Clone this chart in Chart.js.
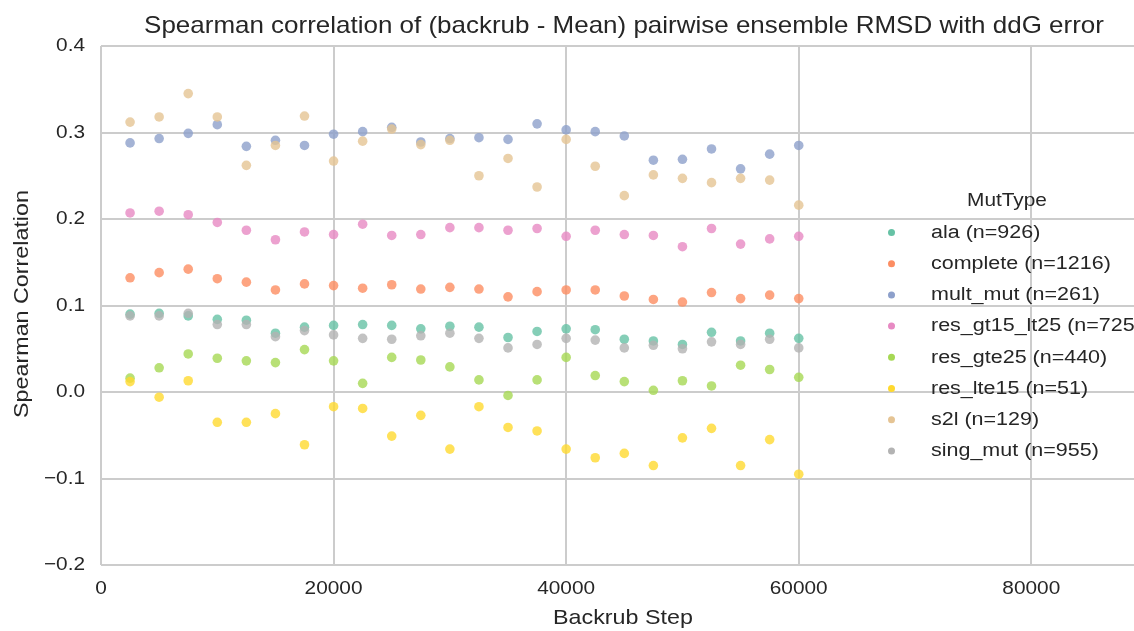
<!DOCTYPE html>
<html>
<head>
<meta charset="utf-8">
<script src="https://cdn.jsdelivr.net/npm/chart.js@4.4.1/dist/chart.umd.min.js"></script>
<style>
  html, body { margin: 0; padding: 0; background: #fff; overflow: hidden; }
  #wrap { width: 1134px; height: 631px; position: relative; }
</style>
</head>
<body>
<div id="wrap"><canvas id="chart"></canvas></div>
<script>
// data
const steps = [2500, 5000, 7500, 10000, 12500, 15000, 17500, 20000, 22500, 25000, 27500, 30000,
               32500, 35000, 37500, 40000, 42500, 45000, 47500, 50000, 52500, 55000, 57500, 60000];

const ala = [0.090, 0.091, 0.088, 0.084, 0.083, 0.068, 0.075, 0.077, 0.078, 0.077, 0.073, 0.076,
             0.075, 0.063, 0.070, 0.073, 0.072, 0.061, 0.059, 0.055, 0.069, 0.059, 0.068, 0.062];
const complete = [0.132, 0.138, 0.142, 0.131, 0.127, 0.118, 0.125, 0.123, 0.120, 0.124, 0.119, 0.121,
                  0.119, 0.110, 0.116, 0.118, 0.118, 0.111, 0.107, 0.104, 0.115, 0.108, 0.112, 0.108];
const multMut = [0.288, 0.293, 0.299, 0.309, 0.284, 0.291, 0.285, 0.298, 0.301, 0.306, 0.289, 0.293,
                 0.294, 0.292, 0.310, 0.303, 0.301, 0.296, 0.268, 0.269, 0.281, 0.258, 0.275, 0.285];
const resGt15Lt25 = [0.207, 0.209, 0.205, 0.196, 0.187, 0.176, 0.185, 0.182, 0.194, 0.181, 0.182, 0.190,
                     0.190, 0.187, 0.189, 0.180, 0.187, 0.182, 0.181, 0.168, 0.189, 0.171, 0.177, 0.180];
const resGte25 = [0.016, 0.028, 0.044, 0.039, 0.036, 0.034, 0.049, 0.036, 0.010, 0.040, 0.037, 0.029,
                  0.014, -0.004, 0.014, 0.040, 0.019, 0.012, 0.002, 0.013, 0.007, 0.031, 0.026, 0.017];
const resLte15 = [0.012, -0.006, 0.013, -0.035, -0.035, -0.025, -0.061, -0.017, -0.019, -0.051, -0.027, -0.066,
                  -0.017, -0.041, -0.045, -0.066, -0.076, -0.071, -0.085, -0.053, -0.042, -0.085, -0.055, -0.095];
const s2l = [0.312, 0.318, 0.345, 0.318, 0.262, 0.285, 0.319, 0.267, 0.290, 0.304, 0.286, 0.291,
             0.250, 0.270, 0.237, 0.292, 0.261, 0.227, 0.251, 0.247, 0.242, 0.247, 0.245, 0.216];
const singMut = [0.088, 0.088, 0.091, 0.078, 0.078, 0.064, 0.071, 0.066, 0.062, 0.061, 0.065, 0.068,
                 0.062, 0.051, 0.055, 0.062, 0.060, 0.051, 0.054, 0.050, 0.058, 0.055, 0.061, 0.051];

const seriesNames = ['ala (n=926)', 'complete (n=1216)', 'mult_mut (n=261)', 'res_gt15_lt25 (n=725)',
                     'res_gte25 (n=440)', 'res_lte15 (n=51)', 's2l (n=129)', 'sing_mut (n=955)'];
const seriesValues = [ala, complete, multMut, resGt15Lt25, resGte25, resLte15, s2l, singMut];
const colors = ['#66c2a5', '#fc8d62', '#8da0cb', '#e78ac3', '#a6d854', '#ffd92f', '#e5c494', '#b3b3b3'];

const xTicks = [0, 20000, 40000, 60000, 80000];
const yTicks = [-0.2, -0.1, 0.0, 0.1, 0.2, 0.3, 0.4];

const FONT = '"Liberation Sans", Arial, sans-serif';
const INK = '#262626';
const SX = 1.12; // the reference text is a little wider than Arial

function hexA(hex, a) {
  const n = parseInt(hex.slice(1), 16);
  return `rgba(${n >> 16}, ${(n >> 8) & 255}, ${n & 255}, ${a})`;
}

function putText(ctx, str, x, y, size, align, rot) {
  ctx.save();
  ctx.font = size + 'px ' + FONT;
  ctx.fillStyle = INK;
  ctx.textAlign = align;
  ctx.textBaseline = 'middle';
  ctx.translate(x, y);
  if (rot) ctx.rotate(rot);
  ctx.scale(SX, 1);
  ctx.fillText(str, 0, 0);
  ctx.restore();
}

function tickText(v) {
  const s = Math.abs(v).toFixed(1);
  return v < 0 ? '\u2212' + s : s;
}

const datasets = seriesValues.map((vals, i) => ({
  label: seriesNames[i],
  data: steps.map((s, j) => ({ x: s, y: vals[j] })),
  backgroundColor: hexA(colors[i], 0.8),
  borderWidth: 0,
  pointRadius: 4.8,
  pointBorderWidth: 0,
  order: seriesValues.length - i
}));

// title, axis titles, tick labels and legend
const textPlugin = {
  id: 'texts',
  afterDraw(chart) {
    const ctx = chart.ctx;
    const xs = chart.scales.x, ys = chart.scales.y;

    putText(ctx, 'Spearman correlation of (backrub - Mean) pairwise ensemble RMSD with ddG error', 624, 27, 23.2, 'center');

    yTicks.forEach(v => {
      putText(ctx, tickText(v), 85, ys.getPixelForValue(v), 18.6, 'right');
    });
    xTicks.forEach(v => {
      putText(ctx, String(v), xs.getPixelForValue(v), 589, 18.6, 'center');
    });

    putText(ctx, 'Backrub Step', 623, 618, 20.8, 'center');
    putText(ctx, 'Spearman Correlation', 22, 304, 20.8, 'center', -Math.PI / 2);

    // legend
    putText(ctx, 'MutType', 1007, 201, 18.6, 'center');
    seriesNames.forEach((name, i) => {
      const y = 232.5 + i * 31.2;
      ctx.beginPath();
      ctx.arc(891.5, y, 3.5, 0, Math.PI * 2);
      ctx.fillStyle = colors[i];
      ctx.fill();
      putText(ctx, name, 931, y, 19.2, 'left');
    });
  }
};

const gridOpts = { color: '#cccccc', lineWidth: 2, drawTicks: false };

new Chart(document.getElementById('chart'), {
  type: 'scatter',
  data: { datasets: datasets },
  options: {
    responsive: true,
    maintainAspectRatio: false,
    animation: false,
    layout: { autoPadding: false, padding: { top: 46, right: 0, bottom: 0, left: 0 } },
    plugins: {
      legend: { display: false },
      tooltip: { enabled: false },
      title: { display: false }
    },
    scales: {
      x: {
        type: 'linear',
        min: 0,
        max: 88830,
        grid: gridOpts,
        border: { display: false },
        ticks: { display: false },
        afterBuildTicks: s => { s.ticks = xTicks.map(v => ({ value: v })); },
        afterFit: s => { s.height = 66; }
      },
      y: {
        min: -0.2,
        max: 0.4,
        grid: gridOpts,
        border: { display: false },
        ticks: { display: false },
        afterBuildTicks: s => { s.ticks = yTicks.map(v => ({ value: v })); },
        afterFit: s => { s.width = 101; }
      }
    }
  },
  plugins: [textPlugin]
});
</script>
</body>
</html>
